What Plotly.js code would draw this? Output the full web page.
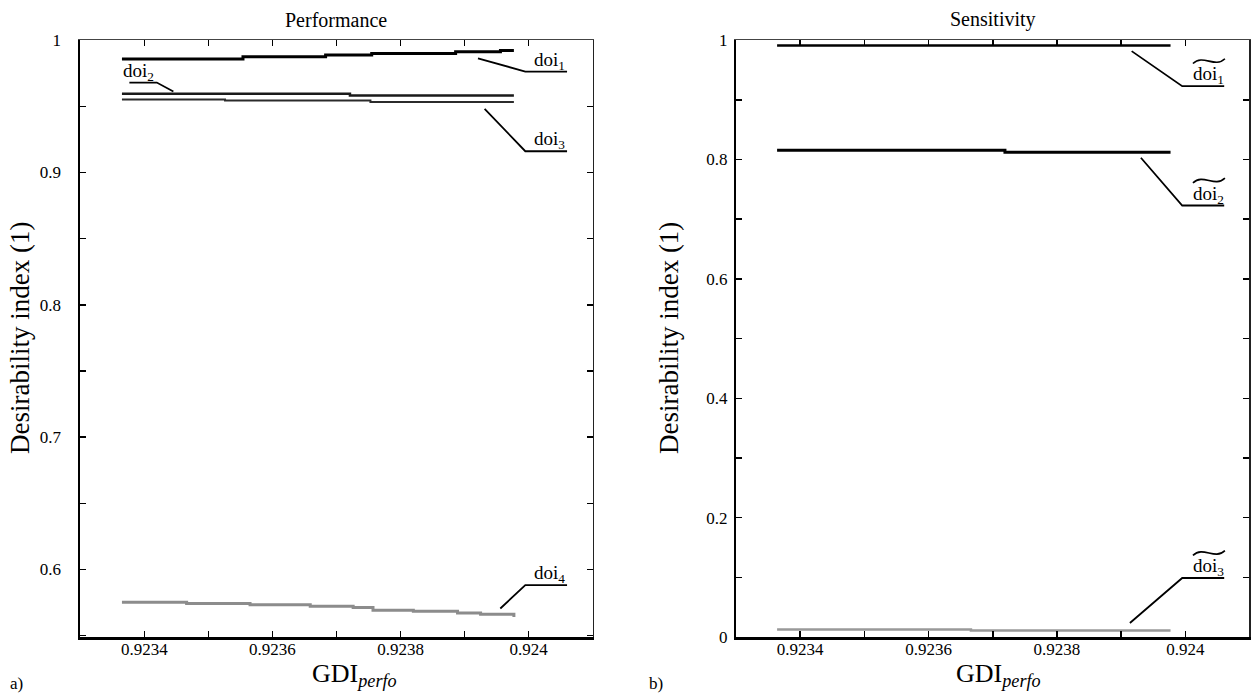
<!DOCTYPE html>
<html>
<head>
<meta charset="utf-8">
<script src="https://cdn.plot.ly/plotly-3.0.1.min.js"></script>
<style>
  html, body { margin: 0; padding: 0; background: #fff; }
  #chart { width: 1253px; height: 694px; }
</style>
</head>
<body>
<div id="chart"></div>
<script>
// ---- Performance panel: desirability indices vs GDI_perfo ----
const gdiDoi1 = [0.923365, 0.923554, 0.923683, 0.923755, 0.923886, 0.923956, 0.923977];
const doi1    = [0.9858,   0.9875,   0.9888,   0.9898,   0.9912,   0.9922,   0.9922];

const gdiDoi2 = [0.923365, 0.923721, 0.923977];
const doi2    = [0.9594,   0.9581,   0.9581];

const gdiDoi3 = [0.923365, 0.923526, 0.923753, 0.923977];
const doi3    = [0.9551,   0.9543,   0.9533,   0.9533];

const gdiDoi4 = [0.923365, 0.923466, 0.923565, 0.923659, 0.923726, 0.923757, 0.923820, 0.923889, 0.923925, 0.923977];
const doi4    = [0.5753,   0.5743,   0.5733,   0.5723,   0.5713,   0.5692,   0.5684,   0.5672,   0.5662,   0.5642];

// ---- Sensitivity panel ----
const gdiSens1 = [0.923364, 0.923977];
const sens1    = [0.991,    0.991];

const gdiSens2 = [0.923364, 0.923719, 0.923977];
const sens2    = [0.8156,   0.8123,   0.8123];

const gdiSens3 = [0.923364, 0.923666, 0.923977];
const sens3    = [0.0125,   0.0110,   0.0110];

// Axis ranges, tick marks and tick labels
const xRange = [0.9233, 0.9241];
const xTickVals = [0.9233, 0.9234, 0.9235, 0.9236, 0.9237, 0.9238, 0.9239, 0.9240, 0.9241];
const xLabelVals = [0.9234, 0.9236, 0.9238, 0.9240];
const xLabelText = ['0.9234', '0.9236', '0.9238', '0.924'];

const perfRange = [0.549, 1];
const perfTickVals = [0.55, 0.6, 0.65, 0.7, 0.75, 0.8, 0.85, 0.9, 0.95, 1];
const perfLabelVals = [0.6, 0.7, 0.8, 0.9, 1];
const perfLabelText = ['0.6', '0.7', '0.8', '0.9', '1'];

const sensRange = [0, 1];
const sensTickVals = [0, 0.1, 0.2, 0.3, 0.4, 0.5, 0.6, 0.7, 0.8, 0.9, 1];
const sensLabelVals = [0, 0.2, 0.4, 0.6, 0.8, 1];
const sensLabelText = ['0', '0.2', '0.4', '0.6', '0.8', '1'];

const panelTitles = ['Performance', 'Sensitivity'];
const yTitle = 'Desirability index (1)';
const xTitle = 'GDI<sub><i>perfo</i></sub>';
const panelTags = ['a)', 'b)'];
const perfLabels = ['doi<sub>1</sub>', 'doi<sub>2</sub>', 'doi<sub>3</sub>', 'doi<sub>4</sub>'];
const sensLabels = ['doi<sub>1</sub>', 'doi<sub>2</sub>', 'doi<sub>3</sub>'];

const FONT = 'Liberation Serif';

function line(x, y, xa, ya, color, width, shape) {
  return { x: x, y: y, xaxis: xa, yaxis: ya, type: 'scatter', mode: 'lines',
           line: { color: color, width: width, shape: shape || 'hv' },
           hoverinfo: 'skip', showlegend: false };
}
// empty trace that only ties the frame / tick-mark axes to their panel
function axisHolder(xa, ya) {
  return { x: [], y: [], xaxis: xa, yaxis: ya, type: 'scatter', mode: 'lines',
           hoverinfo: 'skip', showlegend: false };
}

const traces = [
  line(gdiDoi4, doi4, 'x', 'y', '#8c8c8c', 3),
  line(gdiDoi3, doi3, 'x', 'y', '#2b2b2b', 2),
  line(gdiDoi2, doi2, 'x', 'y', '#1a1a1a', 2.5),
  line(gdiDoi1, doi1, 'x', 'y', '#000000', 3),
  line(gdiSens3, sens3, 'x2', 'y2', '#999999', 2.5),
  line(gdiSens2, sens2, 'x2', 'y2', '#000000', 3),
  line(gdiSens1, sens1, 'x2', 'y2', '#000000', 2.5),
  axisHolder('x3', 'y3'),
  axisHolder('x4', 'y4'),
  axisHolder('x5', 'y5'),
  axisHolder('x6', 'y6')
];

const domL = [0.0641, 0.4730];
const domR = [0.5874, 0.9972];
const domY = [0.0821, 0.9422];

const tickFont = { family: FONT, size: 17, color: '#000' };
const tickStyle = { ticks: 'inside', ticklen: 6, tickwidth: 1.5, tickcolor: '#000',
                    showgrid: false, zeroline: false, fixedrange: true };

// labelled axes (bottom / left)
function labelX(dom, anchor) {
  return Object.assign({
    domain: dom, anchor: anchor, range: xRange,
    showline: true, linecolor: '#000', linewidth: 2.5,
    tickmode: 'array', tickvals: xLabelVals, ticktext: xLabelText,
    tickfont: tickFont, ticklabelstandoff: -5
  }, tickStyle);
}
function labelY(range, vals, text, anchor, standoff) {
  return Object.assign({
    domain: domY, anchor: anchor, range: range,
    showline: true, linecolor: '#000', linewidth: 2,
    tickmode: 'array', tickvals: vals, ticktext: text,
    tickfont: tickFont, ticklabelstandoff: standoff
  }, tickStyle);
}
// unlabelled tick-mark axes (all four sides)
function markX(dom, anchor, over, side, showline) {
  return Object.assign({
    domain: dom, anchor: anchor, overlaying: over, side: side, range: xRange,
    showline: showline, linecolor: '#444', linewidth: 1,
    tickmode: 'array', tickvals: xTickVals, showticklabels: false
  }, tickStyle);
}
function markY(range, vals, anchor, over, side, showline) {
  return Object.assign({
    domain: domY, anchor: anchor, overlaying: over, side: side, range: range,
    showline: showline, linecolor: '#222', linewidth: 1.5,
    tickmode: 'array', tickvals: vals, showticklabels: false
  }, tickStyle);
}

// leader lines from each curve to its label
function leader(xref, yref, pts) {
  const d = pts.map((p, i) => (i ? 'L' : 'M') + p[0] + ',' + p[1]).join(' ');
  return { type: 'path', xref: xref, yref: yref, path: d, line: { color: '#000', width: 1.8 } };
}
// wide tilde drawn over a label (sizes in pixels, converted to data units of the sensitivity panel)
const pxX2 = (xRange[1] - xRange[0]) / 513.5;
const pxY2 = (sensRange[1] - sensRange[0]) / 596.6;
function tilde(xc, yc) {
  const hw = 16 * pxX2, a = 3.4 * pxY2;
  const d = 'M' + (xc - hw) + ',' + (yc - a * 0.7) +
            ' C' + (xc - hw * 0.35) + ',' + (yc + a * 2.2) + ' ' +
            (xc + hw * 0.35) + ',' + (yc - a * 2.2) + ' ' +
            (xc + hw) + ',' + (yc + a * 0.7);
  return { type: 'path', xref: 'x2', yref: 'y2', path: d, line: { color: '#000', width: 1.6 } };
}

const shapes = [
  leader('x', 'y', [[0.9239209, 0.98626], [0.9239948, 0.97622], [0.9240600, 0.97622]]),
  leader('x', 'y', [[0.9233766, 0.96791], [0.9234194, 0.96791], [0.9234453, 0.96112]]),
  leader('x', 'y', [[0.9239313, 0.94806], [0.9239948, 0.91604], [0.9240600, 0.91604]]),
  leader('x', 'y', [[0.9239558, 0.57056], [0.9239948, 0.58815], [0.9240600, 0.58815]]),
  leader('x2', 'y2', [[0.9239164, 0.98156], [0.9239952, 0.92290], [0.9240606, 0.92290]]),
  leader('x2', 'y2', [[0.9239308, 0.80288], [0.9239952, 0.72293], [0.9240606, 0.72293]]),
  leader('x2', 'y2', [[0.9239137, 0.02347], [0.9239952, 0.09889], [0.9240606, 0.09889]]),
  tilde(0.9240368, 0.92290 + 25 * pxY2),
  tilde(0.9240368, 0.72293 + 25 * pxY2),
  tilde(0.9240368, 0.09889 + 25 * pxY2)
];

const labelFont = { family: FONT, size: 19, color: '#000' };
function lab(text, xref, yref, x, y) {
  return { text: text, xref: xref, yref: yref, x: x, y: y, xanchor: 'center', yanchor: 'bottom',
           showarrow: false, font: labelFont, borderpad: 0, yshift: -2 };
}
function paperText(text, x, y, size, angle) {
  return { text: text, xref: 'paper', yref: 'paper', x: x, y: y, xanchor: 'center', yanchor: 'middle',
           showarrow: false, font: { family: FONT, size: size, color: '#000' }, textangle: angle || 0 };
}

const annotations = [
  lab(perfLabels[0], 'x', 'y', 0.9240323, 0.97622),
  lab(perfLabels[1], 'x', 'y', 0.9233902, 0.96791),
  lab(perfLabels[2], 'x', 'y', 0.9240323, 0.91604),
  lab(perfLabels[3], 'x', 'y', 0.9240323, 0.58815),
  lab(sensLabels[0], 'x2', 'y2', 0.9240368, 0.92290),
  lab(sensLabels[1], 'x2', 'y2', 0.9240368, 0.72293),
  lab(sensLabels[2], 'x2', 'y2', 0.9240368, 0.09889),
  paperText(panelTitles[0], 0.26855, 0.9712, 20),
  paperText(panelTitles[1], 0.79226, 0.9712, 20),
  paperText(xTitle, 0.2833, 0.0274, 26),
  paperText(xTitle, 0.7971, 0.0274, 26),
  paperText(yTitle, 0.0160, 0.5130, 27, -90),
  paperText(yTitle, 0.5340, 0.5130, 27, -90),
  paperText(panelTags[0], 0.0128, 0.0158, 17),
  paperText(panelTags[1], 0.5235, 0.0158, 17)
];

const layout = {
  width: 1253, height: 694,
  margin: { l: 0, r: 0, t: 0, b: 0 },
  paper_bgcolor: '#fff', plot_bgcolor: '#fff',
  showlegend: false,
  font: { family: FONT, color: '#000' },
  // Performance panel
  xaxis: labelX(domL, 'y'),
  yaxis: labelY(perfRange, perfLabelVals, perfLabelText, 'x', 14),
  xaxis3: markX(domL, 'y3', 'x', 'top', true),
  yaxis3: markY(perfRange, perfTickVals, 'x3', 'y', 'right', true),
  xaxis5: markX(domL, 'y5', 'x', 'bottom', false),
  yaxis5: markY(perfRange, perfTickVals, 'x5', 'y', 'left', false),
  // Sensitivity panel
  xaxis2: labelX(domR, 'y2'),
  yaxis2: labelY(sensRange, sensLabelVals, sensLabelText, 'x2', 3),
  xaxis4: markX(domR, 'y4', 'x2', 'top', true),
  yaxis4: markY(sensRange, sensTickVals, 'x4', 'y2', 'right', true),
  xaxis6: markX(domR, 'y6', 'x2', 'bottom', false),
  yaxis6: markY(sensRange, sensTickVals, 'x6', 'y2', 'left', false),
  shapes: shapes,
  annotations: annotations
};

Plotly.newPlot('chart', traces, layout, { staticPlot: true, displayModeBar: false });
</script>
</body>
</html>
